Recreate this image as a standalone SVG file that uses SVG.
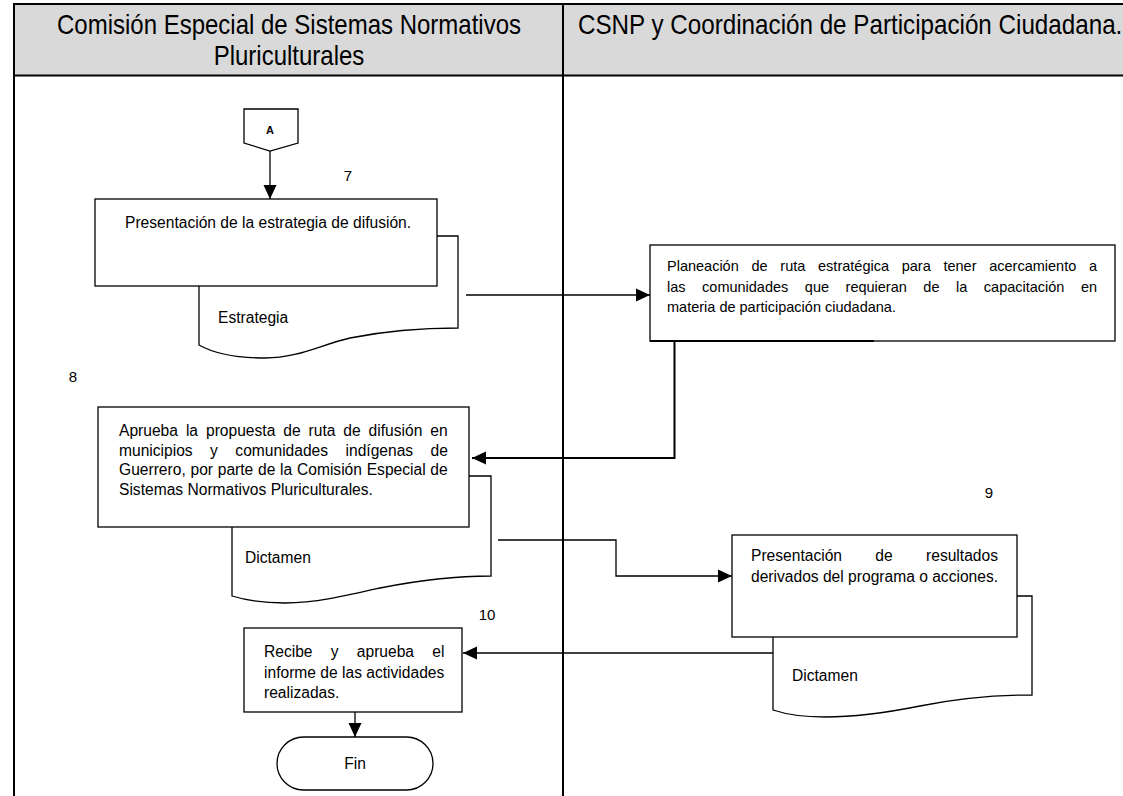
<svg xmlns="http://www.w3.org/2000/svg" width="1123" height="796" viewBox="0 0 1123 796">
<style>
  text { font-family: "Liberation Sans", Arial, sans-serif; fill: #000; }
  .title { font-size: 27px; }
  .body { font-size: 15.6px; }
  .pl { font-size: 14.5px; }
  .num { font-size: 15px; }
  .box { fill: #fff; stroke: #000; stroke-width: 1.3; }
  .frame { stroke: #000; stroke-width: 2; fill: none; }
  .conn { stroke: #000; stroke-width: 1.3; fill: none; }
  .thick { stroke: #000; stroke-width: 2; fill: none; }
</style>
<defs>
  <marker id="ah" markerUnits="userSpaceOnUse" markerWidth="14" markerHeight="14" refX="14" refY="7" orient="auto">
    <path d="M0,0.5 L14,7 L0,13.5 Z" fill="#000"/>
  </marker>
</defs>
<rect width="1123" height="796" fill="#fff"/>
<g id="lanes">
  <rect x="14" y="4" width="1111" height="71.5" fill="#d9d9d9"/>
  <line class="frame" x1="13" y1="4" x2="1123" y2="4"/>
  <line class="frame" x1="13" y1="75.5" x2="1123" y2="75.5"/>
  <line class="frame" x1="14" y1="3" x2="14" y2="796"/>
  <line class="frame" x1="563" y1="3" x2="563" y2="796"/>
  <text class="title" transform="translate(289,34) scale(0.889,1)" text-anchor="middle">Comisión Especial de Sistemas Normativos</text>
  <text class="title" transform="translate(289,65) scale(0.889,1)" text-anchor="middle">Pluriculturales</text>
  <text class="title" transform="translate(578,34) scale(0.897,1)">CSNP y Coordinación de Participación Ciudadana.</text>
</g>
<g id="connectors">
  <path class="conn" d="M270,151 V199" marker-end="url(#ah)"/>
  <path class="conn" d="M466,295 H650" marker-end="url(#ah)"/>
  <path class="thick" d="M674.5,341 V458 H472" marker-end="url(#ah)"/>
  <path class="conn" d="M498,540 H616 V576 H732" marker-end="url(#ah)"/>
  <path class="conn" d="M773,653 H463" marker-end="url(#ah)"/>
  <path class="conn" d="M355,712 V737" marker-end="url(#ah)"/>
</g>
<g id="connector-A">
  <path class="box" d="M244,109 H298 V143 L270,151 L244,143 Z"/>
  <text x="270" y="134" text-anchor="middle" font-size="11" font-weight="bold">A</text>
</g>
<g id="step7">
  <text class="num" x="348" y="181" text-anchor="middle">7</text>
  <path class="box" d="M199,236 H458 V328 C430,328 390,330 350,338 C320,345 298,358 265,358 C240,358 215,354 199,345 Z"/>
  <text class="body" x="218" y="323">Estrategia</text>
  <rect class="box" x="95" y="199" width="342" height="87"/>
  <text class="body" x="125" y="228">Presentación de la estrategia de difusión.</text>
</g>
<g id="planeacion">
  <rect class="box" x="650" y="245" width="465" height="96"/>
  <line class="thick" x1="650" y1="341" x2="874" y2="341"/>
  <text class="pl" x="667" y="271" word-spacing="8.7">Planeación de ruta estratégica para tener acercamiento a</text>
  <text class="pl" x="667" y="291.5" word-spacing="12.5">las comunidades que requieran de la capacitación en</text>
  <text class="pl" x="667" y="312">materia de participación ciudadana.</text>
</g>
<g id="step8">
  <text class="num" x="73" y="382" text-anchor="middle">8</text>
  <path class="box" d="M232,476 H491 V576 C460,576 420,580 380,588 C345,596 315,603 285,603 C260,603 245,600 232,596 Z"/>
  <text class="body" x="245" y="563">Dictamen</text>
  <rect class="box" x="98" y="407" width="371" height="120"/>
  <text class="body" x="119" y="436" word-spacing="3.6">Aprueba la propuesta de ruta de difusión en</text>
  <text class="body" x="119" y="455.5" word-spacing="13.1">municipios y comunidades indígenas de</text>
  <text class="body" x="119" y="475" word-spacing="0.4">Guerrero, por parte de la Comisión Especial de</text>
  <text class="body" x="119" y="494.5">Sistemas Normativos Pluriculturales.</text>
</g>
<g id="step9">
  <text class="num" x="989" y="498" text-anchor="middle">9</text>
  <path class="box" d="M773,596 H1032 V695 C1000,695 960,698 920,706 C885,713 855,717 825,717 C800,717 785,714 773,710 Z"/>
  <text class="body" x="792" y="681">Dictamen</text>
  <rect class="box" x="732" y="535" width="285" height="102"/>
  <text class="body" x="751" y="561" word-spacing="29">Presentación de resultados</text>
  <text class="body" x="751" y="582">derivados del programa o acciones.</text>
</g>
<g id="step10">
  <text class="num" x="487" y="620" text-anchor="middle">10</text>
  <rect class="box" x="244" y="628" width="218" height="84"/>
  <text class="body" x="264" y="657" word-spacing="13.9">Recibe y aprueba el</text>
  <text class="body" x="264" y="677.5">informe de las actividades</text>
  <text class="body" x="264" y="698">realizadas.</text>
</g>
<g id="fin">
  <rect class="box" x="277" y="737" width="156" height="53" rx="26.5" ry="26.5"/>
  <text class="body" x="355" y="769" text-anchor="middle">Fin</text>
</g>
</svg>
